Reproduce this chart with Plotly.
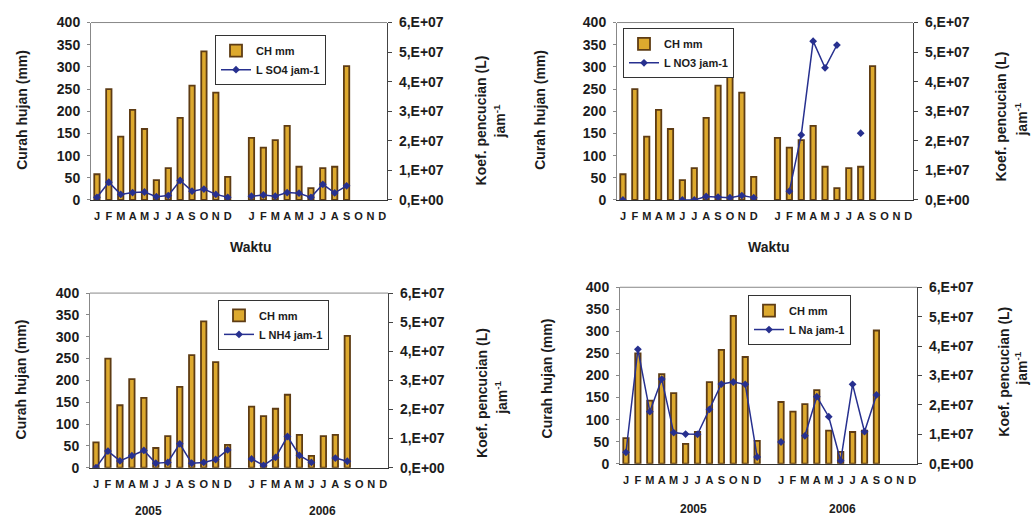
import plotly.graph_objects as go

# ---------------- data ----------------
months = ["J", "F", "M", "A", "M", "J", "J", "A", "S", "O", "N", "D"]
categories = months + [""] + months          # 2005, gap, 2006
xpos = list(range(len(categories)))
tick_pos = [p for p, c in zip(xpos, categories) if c]
tick_lbl = [c for c in categories if c]

ch_mm = [58, 250, 143, 203, 160, 45, 72, 185, 258, 335, 242, 52, None,
         140, 118, 135, 167, 75, 27, 72, 75, 302, None, None, None]

# leaching values in units of 1E+07
so4 = [0.09, 0.60, 0.19, 0.25, 0.27, 0.11, 0.15, 0.66, 0.30, 0.37, 0.19, 0.09, None,
       0.13, 0.17, 0.13, 0.25, 0.23, 0.09, 0.53, 0.24, 0.48, None, None, None]
no3 = [0.0, None, None, None, None, 0.0, 0.0, 0.12, 0.10, 0.08, 0.15, 0.08, None,
       None, 0.30, 2.20, 5.37, 4.47, 5.24, None, 2.26, None, None, None, None]
nh4 = [0.0, 0.57, 0.23, 0.41, 0.59, 0.15, 0.18, 0.82, 0.15, 0.18, 0.28, 0.61, None,
       0.30, 0.08, 0.35, 1.07, 0.42, 0.18, None, 0.33, 0.22, None, None, None]
na = [0.39, 3.89, 1.77, 2.88, 1.06, 1.01, 1.00, 1.85, 2.71, 2.78, 2.70, 0.23, None,
      0.74, None, 0.95, 2.28, 1.60, 0.10, 2.70, 1.09, 2.34, None, None, None]

right_ticks = [0, 1e7, 2e7, 3e7, 4e7, 5e7, 6e7]
right_tick_text = ["0,E+00", "1,E+07", "2,E+07", "3,E+07", "4,E+07", "5,E+07", "6,E+07"]
left_ticks = [0, 50, 100, 150, 200, 250, 300, 350, 400]

series_names = ["L SO4 jam-1", "L NO3 jam-1", "L NH4 jam-1", "L Na jam-1"]
series_vals = [so4, no3, nh4, na]

# ---------------- layout geometry (pixels) ----------------
W, H = 1034, 528
panels = [  # left, right, top, bottom (px) of plot areas
    (91, 387, 15, 198),
    (617, 913, 15, 198),
    (90, 388, 294, 474),
    (620, 917, 288, 470),
]
legend_pos = [(215, 28), (623, 21), (218, 301), (748, 296)]

BAR_FILL = "#DDA92E"
BAR_LINE = "#5E3C14"
LINE_COL = "#27308F"
TXT = "#1c1c1c"
FONT = "Liberation Sans, Arial, sans-serif"

fig = go.Figure()

for i, (vals, name) in enumerate(zip(series_vals, series_names)):
    n = i + 1
    xa = "x" if n == 1 else f"x{n}"
    ya_left = f"y{2 * n - 1}" if n > 1 else "y"
    ya_right = f"y{2 * n}"
    leg = "legend" if n == 1 else f"legend{n}"
    fig.add_trace(go.Bar(
        x=xpos, y=ch_mm, name="CH mm", xaxis=xa, yaxis=ya_left,
        width=0.45, marker=dict(color=BAR_FILL, line=dict(color=BAR_LINE, width=1.8)),
        legend=leg,
    ))
    fig.add_trace(go.Scatter(
        x=xpos, y=[None if v is None else v * 1e7 for v in vals], name=name,
        xaxis=xa, yaxis=ya_right, mode="lines+markers",
        line=dict(color=LINE_COL, width=1.5),
        marker=dict(symbol="diamond", size=6, color=LINE_COL),
        connectgaps=False, legend=leg,
    ))

layout = dict(
    width=W, height=H, margin=dict(l=0, r=0, t=0, b=0),
    paper_bgcolor="white", plot_bgcolor="white",
    font=dict(family=FONT, size=13, color=TXT, weight="bold"),
    barmode="overlay", showlegend=True,
)

annotations = []
for i, (l, r, t, b) in enumerate(panels):
    n = i + 1
    xkey = "xaxis" if n == 1 else f"xaxis{n}"
    ylkey = "yaxis" if n == 1 else f"yaxis{2 * n - 1}"
    yrkey = f"yaxis{2 * n}"
    xref = "x" if n == 1 else f"x{n}"
    yl_ref = "y" if n == 1 else f"y{2 * n - 1}"
    xdom = [l / W, r / W]
    ydom = [1 - b / H, 1 - t / H]
    layout[xkey] = dict(
        domain=xdom, anchor=yl_ref, range=[-0.5, 24.4],
        tickmode="array", tickvals=tick_pos, ticktext=tick_lbl,
        tickfont=dict(size=11, family=FONT, weight="bold"),
        ticks="", showline=True, linecolor="#333", linewidth=1.2,
        mirror=False, showgrid=False, zeroline=False, ticklabelstandoff=6,
    )
    layout[ylkey] = dict(
        domain=ydom, anchor=xref, range=[0, 400], tickvals=left_ticks,
        tickfont=dict(size=14, family=FONT, weight="bold"),
        showline=True, linecolor="#888", linewidth=1, ticks="outside",
        ticklen=3, tickcolor="#888", showgrid=False, zeroline=False,
        ticklabelstandoff=4,
    )
    layout[yrkey] = dict(
        overlaying=yl_ref, side="right", anchor=xref, range=[0, 6e7],
        tickmode="array", tickvals=right_ticks, ticktext=right_tick_text,
        tickfont=dict(size=14, family=FONT, weight="bold"),
        showline=True, linecolor="#444", linewidth=1.2, ticks="outside",
        ticklen=4, tickcolor="#444", showgrid=False, zeroline=False,
        ticklabelstandoff=4,
    )
    leg = "legend" if n == 1 else f"legend{n}"
    lx, ly = legend_pos[i]
    layout[leg] = dict(
        x=lx / W, y=1 - ly / H, xanchor="left", yanchor="top",
        bgcolor="white", bordercolor="#333", borderwidth=1,
        font=dict(size=11, family=FONT, color=TXT),
        tracegroupgap=0, itemwidth=30, traceorder="normal",
    )

# plot-area top borders
shapes = []
for (l, r, t, b) in panels:
    shapes.append(dict(type="line", xref="paper", yref="paper",
                       x0=l / W, x1=r / W, y0=1 - t / H, y1=1 - t / H,
                       line=dict(color="#888", width=1)))
layout["shapes"] = shapes

def ann(text, x, y, angle=0, size=14):
    return dict(text=text, x=x / W, y=1 - y / H, xref="paper", yref="paper",
                showarrow=False, textangle=angle, xanchor="center", yanchor="middle",
                font=dict(size=size, family=FONT, color=TXT, weight="bold"))

left_titles = [(22, 105), (540, 105), (21, 383), (547, 382)]
right_titles = [(481, 116), (1001, 112), (482, 397), (1004, 375)]
jam_titles = [(500, 117), (1021, 115), (501, 402), (1021, 372)]
for (x, y) in left_titles:
    annotations.append(ann("Curah hujan (mm)", x, y, -90))
for (x, y) in right_titles:
    annotations.append(ann("Koef. pencucian (L)", x, y, -90))
for (x, y) in jam_titles:
    annotations.append(ann("jam<sup>-1</sup>", x, y, -90))
annotations.append(ann("Waktu", 250, 246))
annotations.append(ann("Waktu", 768, 246))
annotations.append(ann("2005", 148, 519, 0, 12))
annotations.append(ann("2006", 322, 519, 0, 12))
annotations.append(ann("2005", 693, 517, 0, 12))
annotations.append(ann("2006", 842, 517, 0, 12))
layout["annotations"] = annotations

fig.update_layout(**layout)
fig.write_html("out.html")
